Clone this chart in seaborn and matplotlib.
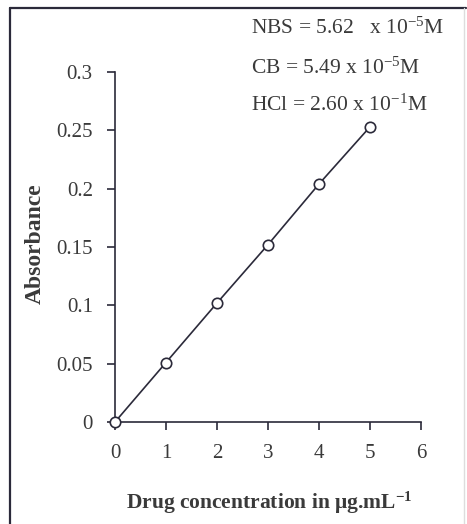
import matplotlib
matplotlib.use("Agg")
import matplotlib.pyplot as plt
import seaborn as sns
import pandas as pd
from matplotlib.lines import Line2D

# Data
concentration = [0, 1, 2, 3, 4, 5]
absorbance = [0.0, 0.051, 0.102, 0.152, 0.204, 0.253]
x_ticks = [0, 1, 2, 3, 4, 5, 6]
y_ticks = [0, 0.05, 0.1, 0.15, 0.2, 0.25, 0.3]
y_ticklabels = ["0", "0.05", "0.1", "0.15", "0.2", "0.25", "0.3"]
notes = [r"NBS = 5.62   x $10^{-5}$M",
         r"CB = 5.49 x $10^{-5}$M",
         r"HCl = 2.60 x $10^{-1}$M"]

sns.set_style("ticks")
plt.rcParams["font.family"] = ["Liberation Serif", "DejaVu Serif"]
plt.rcParams["mathtext.fontset"] = "custom"
plt.rcParams["mathtext.rm"] = "Liberation Serif"
plt.rcParams["mathtext.it"] = "Liberation Serif:italic"
plt.rcParams["mathtext.bf"] = "Liberation Serif:bold"

ink = "#2b2a3a"
txt = "#3a3a3a"

df = pd.DataFrame({"conc": concentration, "abs": absorbance})

fig = plt.figure(figsize=(4.67, 5.24), dpi=100)
W, H = 467, 524
ax = fig.add_axes([115 / W, 1 - 422 / H, (421 - 115) / W, (422 - 72) / H])

sns.lineplot(data=df, x="conc", y="abs", ax=ax, color=ink, linewidth=1.2,
             marker="o", markersize=7.5, markerfacecolor="white",
             markeredgecolor=ink, markeredgewidth=1.2, clip_on=False, zorder=3)

ax.set_xlim(0, 6)
ax.set_ylim(0, 0.3)
ax.set_xticks(x_ticks)
ax.set_xticklabels([str(t) for t in x_ticks])
ax.set_yticks(y_ticks)
ax.set_yticklabels(y_ticklabels)
sns.despine(ax=ax)
for s in ["left", "bottom"]:
    ax.spines[s].set_color(ink)
    ax.spines[s].set_linewidth(1.2)
ax.tick_params(axis="both", direction="out", length=6, width=1.2, color=ink,
               labelsize=15, labelcolor=txt, pad=10)
ax.set_xlabel("")
ax.set_ylabel("")

fig.text(269 / W, 1 - 503 / H, r"Drug concentration in $\mathbf{\mu}$g.mL$^{\mathbf{-1}}$",
         ha="center", va="center", fontsize=15.5, fontweight="bold", color=txt)
fig.text(35 / W, 1 - 244 / H, "Absorbance", rotation=90, ha="center", va="center",
         fontsize=17, fontweight="bold", color=txt)

ys = [28, 68, 105]
for t, yy in zip(notes, ys):
    fig.text(251 / W, 1 - yy / H, t, ha="left", va="center", fontsize=15.5, color=txt)

# scanned border
fig.add_artist(Line2D([10 / W, 10 / W], [0, 1 - 8 / H], transform=fig.transFigure,
                      color=ink, linewidth=1.6))
fig.add_artist(Line2D([10 / W, 466 / W], [1 - 8 / H, 1 - 8 / H], transform=fig.transFigure,
                      color=ink, linewidth=1.6))
fig.add_artist(Line2D([464 / W, 464 / W], [0, 1 - 8 / H], transform=fig.transFigure,
                      color="#dddddd", linewidth=1.0))

fig.savefig("out.png", dpi=100)
